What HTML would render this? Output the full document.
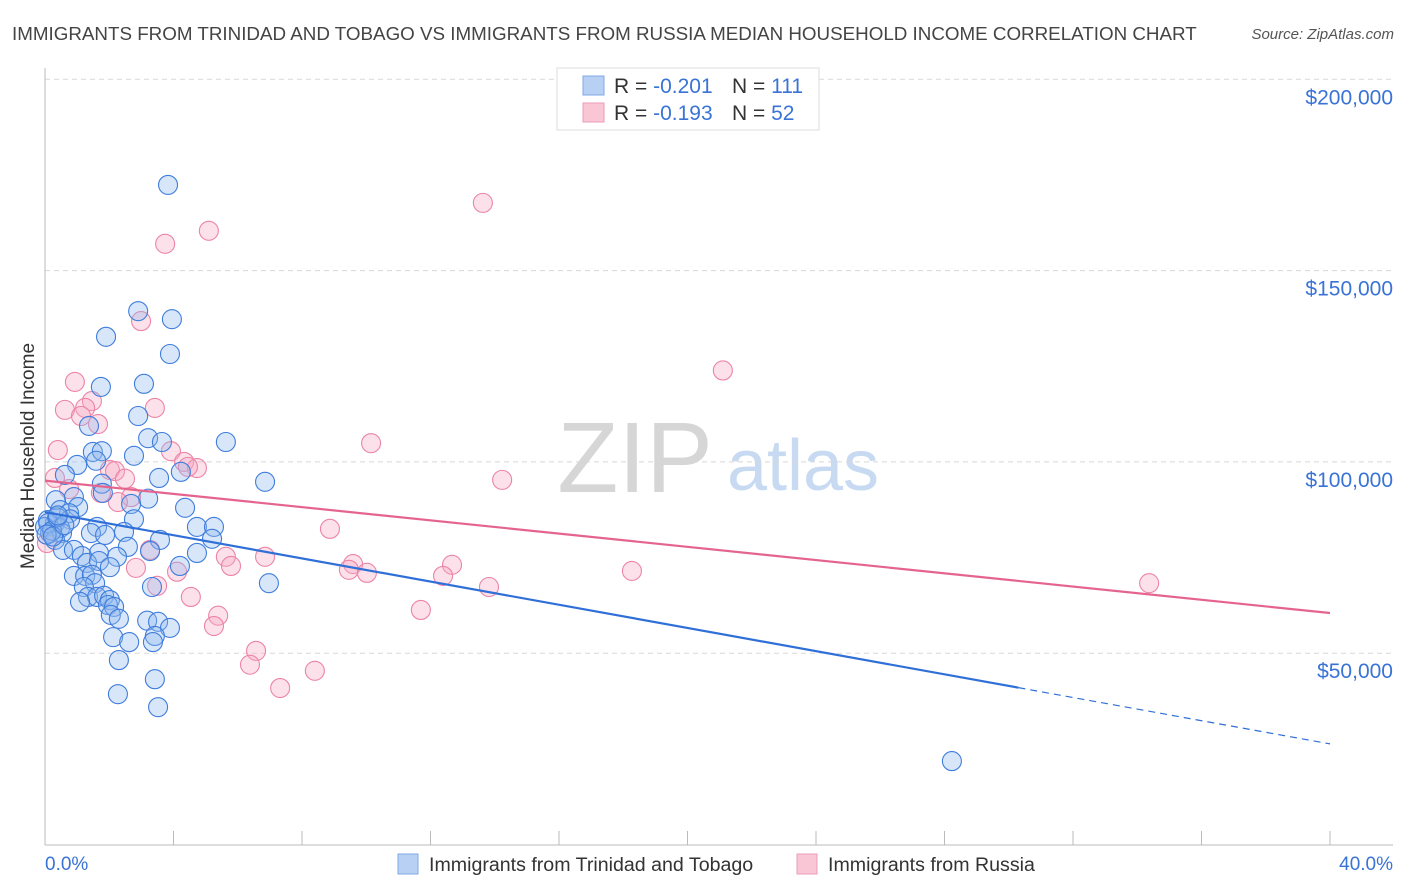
<!DOCTYPE html>
<html><head><meta charset="utf-8"><style>
body{margin:0;background:#fff;font-family:"Liberation Sans",sans-serif;}
#wrap{position:relative;width:1406px;height:892px;overflow:hidden;}
svg text{font-family:"Liberation Sans",sans-serif;}
</style></head><body>
<div id="wrap">
<svg id="chart" width="1406" height="892">
<text x="12" y="40" font-size="18.8" fill="#444">IMMIGRANTS FROM TRINIDAD AND TOBAGO VS IMMIGRANTS FROM RUSSIA MEDIAN HOUSEHOLD INCOME CORRELATION CHART</text>
<text x="1394" y="39" font-size="15" fill="#555" font-style="italic" text-anchor="end">Source: ZipAtlas.com</text>
<text x="635" y="492" font-size="100" fill="#d6d6d6" font-family="Liberation Serif" text-anchor="middle">ZIP</text>
<text x="803" y="490" font-size="72" fill="#c8daf2" text-anchor="middle">atlas</text>
<text transform="translate(34,456) rotate(-90)" font-size="19" fill="#333" text-anchor="middle">Median Household Income</text>
<g id="grid"></g><g id="marks"></g>
<g>
<rect x="557" y="68" width="262" height="62" fill="#fff" stroke="#ddd"/>
<rect x="583" y="76" width="21" height="19" fill="#b7d0f4" stroke="#7fa7e6"/>
<rect x="583" y="103" width="21" height="19" fill="#f9c6d6" stroke="#ee9bb6"/>
<text x="614" y="93" font-size="21" fill="#333">R = <tspan fill="#3a73d6">-0.201</tspan><tspan x="732">N = </tspan><tspan fill="#3a73d6">111</tspan></text>
<text x="614" y="120" font-size="21" fill="#333">R = <tspan fill="#3a73d6"> -0.193</tspan><tspan x="732">N = </tspan><tspan fill="#3a73d6">52</tspan></text>
</g>
<g>
<rect x="398" y="854" width="20" height="20" fill="#b7d0f4" stroke="#7fa7e6"/>
<text x="429" y="871" font-size="19.6" fill="#333">Immigrants from Trinidad and Tobago</text>
<rect x="797" y="854" width="20" height="20" fill="#f9c6d6" stroke="#ee9bb6"/>
<text x="828" y="871" font-size="19.6" fill="#333">Immigrants from Russia</text>
</g>
<text x="45" y="870" font-size="19" fill="#3a73d6">0.0%</text>
<text x="1393" y="870" font-size="19" fill="#3a73d6" text-anchor="end">40.0%</text>
</svg></div>
<script>
const yTicks=[50,100,150,200];
const yTickLabels=["$50,000","$100,000","$150,000","$200,000"];
const blueX=[3.83,2.9,3.95,1.9,3.89,1.74,3.08,2.9,1.37,3.21,5.63,3.64,1.49,1.77,2.77,1.59,1.0,4.23,0.62,3.55,6.85,1.77,1.8,0.9,3.21,0.34,2.68,0.47,4.36,1.03,0.75,0.09,0.78,2.77,0.31,0,0.47,1.62,4.73,5.26,0.16,0.53,1.43,1.87,2.46,3.58,5.2,0.31,2.58,0.56,0.9,3.27,1.68,4.73,1.15,2.24,1.31,1.68,4.2,2.02,6.97,0.9,1.25,1.46,1.56,1.21,3.33,1.34,1.62,1.84,2.02,1.09,1.96,2.15,2.05,2.3,3.18,3.52,3.89,2.12,3.42,2.62,3.36,2.3,3.42,2.27,3.52,28.23,0.1,0.22,0.38,0.05,0.25,0.6,0.4];
const blueY=[172.4,139.4,137.3,132.7,128.2,119.6,120.4,112.0,109.4,106.2,105.2,105.2,102.6,102.8,101.6,100.3,99.2,97.4,96.6,95.8,94.8,94.3,91.9,90.8,90.4,90.0,89.0,87.4,88.0,88.2,86.6,84.8,85.0,85.0,84.0,83.0,82.7,83.0,83.0,83.0,81.4,81.4,81.4,80.9,81.7,79.6,79.9,79.6,77.8,77.0,77.0,76.7,76.2,76.2,75.4,75.2,73.6,74.1,72.8,72.5,68.3,70.2,70.2,70.5,68.3,67.3,67.3,64.7,64.7,65.0,63.9,63.4,62.6,62.1,60.0,59.0,58.5,58.2,56.6,54.2,54.5,52.9,52.9,48.2,43.2,39.3,35.9,21.8,84.0,82.0,85.5,81.0,80.5,83.5,86.0];
const pinkX=[13.63,5.1,3.74,2.99,21.1,0.93,0.62,1.46,1.25,3.42,1.12,1.65,10.15,0.4,3.92,4.33,4.73,4.45,2.02,2.18,2.49,14.23,0.31,0.75,1.74,2.68,2.27,8.87,0.06,3.27,5.63,6.85,5.79,9.59,9.46,10.02,12.67,12.39,2.83,4.11,18.27,13.82,34.37,3.49,4.54,5.39,5.26,11.7,6.57,6.38,8.4,7.32];
const pinkY=[167.7,160.4,157.0,136.8,123.9,120.9,113.6,115.9,114.1,114.1,112.0,109.9,104.9,103.1,102.8,100.0,98.4,98.7,97.9,97.6,95.6,95.3,95.8,92.9,91.9,90.8,89.5,82.5,78.8,77.0,75.2,75.2,72.8,73.3,71.8,71.0,73.1,70.2,72.3,71.3,71.5,67.3,68.3,67.6,64.7,59.8,57.1,61.3,50.6,47.0,45.4,40.9];
const blueTrend=[86.9,-1.515];
const pinkTrend=[95.1,-0.865];
const X0=45,X1=1330,YB=844.5,PX50=191.3;
const sx=v=>X0+(v/40)*(X1-X0);
const sy=v=>YB-v/50*PX50;
const NS="http://www.w3.org/2000/svg";
const grid=document.getElementById('grid'),marks=document.getElementById('marks');
function mk(tag,attrs,parent){const e=document.createElementNS(NS,tag);for(const k in attrs)e.setAttribute(k,attrs[k]);parent.appendChild(e);return e;}
yTicks.forEach((t,i)=>{
 const l=mk('line',{x1:45,x2:1393,y1:sy(t),y2:sy(t),stroke:'#d8d8d8','stroke-dasharray':'5,4'},grid);
 
 
 const tx=mk('text',{x:1393,y:sy(t)+25,'font-size':21,fill:'#3a73d6','text-anchor':'end'},grid);
 tx.textContent=yTickLabels[i];
 
 
});
const ax=mk('line',{x1:45,x2:45,y1:68,y2:845,stroke:'#bbb'},grid);


const bx=mk('line',{x1:45,x2:1393,y1:845,y2:845,stroke:'#bbb'},grid);


for(let i=0;i<=10;i++){const t=mk('line',{x1:sx(i*4),x2:sx(i*4),y1:831,y2:845,stroke:'#bbb'},grid);
 
 }
function pts(xs,ys,fill,stroke,name){xs.forEach((x,i)=>{const c=mk('circle',{cx:sx(x),cy:sy(ys[i]),r:9.5,fill:fill,'fill-opacity':0.35,stroke:stroke,'stroke-width':1.1},marks);
 
 });}
pts(pinkX,pinkY,'#f5a9c2','#ec84a6','point-russia');
pts(blueX,blueY,'#8fb6ee','#3f7ddc','point-trinidad');
const bMax=30.3;
const bl=mk('line',{x1:sx(0),y1:sy(blueTrend[0]),x2:sx(bMax),y2:sy(blueTrend[0]+blueTrend[1]*bMax),stroke:'#2f6fd8','stroke-width':2.2},marks);


const bd=mk('line',{x1:sx(bMax),y1:sy(blueTrend[0]+blueTrend[1]*bMax),x2:sx(40),y2:sy(blueTrend[0]+blueTrend[1]*40),stroke:'#2f6fd8','stroke-width':1.2,'stroke-dasharray':'7,5'},marks);


const pl=mk('line',{x1:sx(0),y1:sy(pinkTrend[0]),x2:sx(40),y2:sy(pinkTrend[0]+pinkTrend[1]*40),stroke:'#e5648e','stroke-width':2.2},marks);


</script></body></html>
